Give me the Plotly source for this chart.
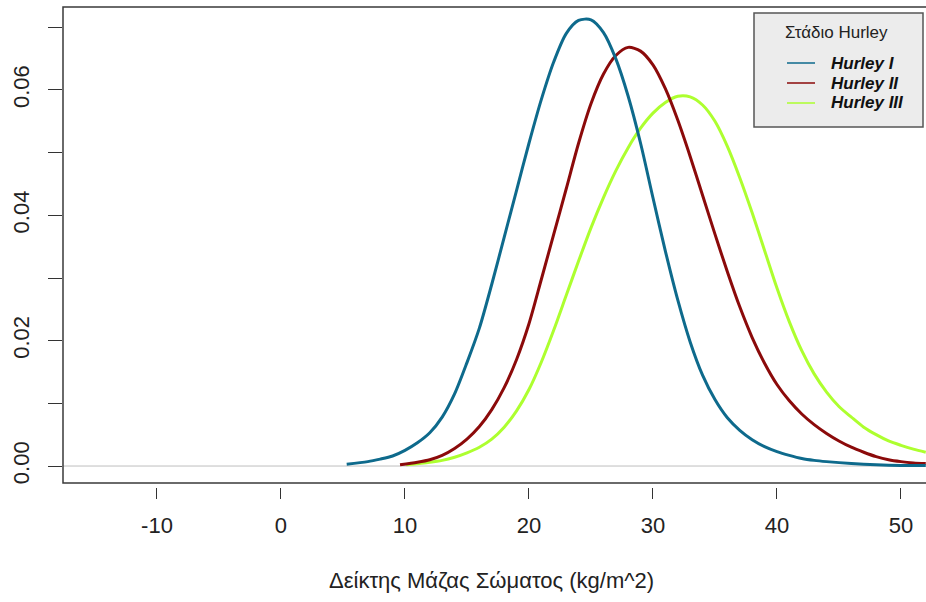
import plotly.graph_objects as go

# ---- data ----
series_names = ["Hurley I", "Hurley II", "Hurley III"]
series_colors = ["#0E6A8C", "#8B0A0A", "#ADFF2F"]

x_hurley1 = [5.3, 7, 8, 9, 10, 11, 12, 13, 14, 15, 16, 17, 18, 19, 20, 21, 22, 23, 24, 25,
             26, 27, 28, 29, 30, 31, 32, 33, 34, 35, 36, 37, 38, 39, 40, 41, 42, 43, 44, 46,
             48, 50, 52]
y_hurley1 = [0.0003, 0.0007, 0.0011, 0.0016, 0.0025, 0.0037, 0.0053, 0.0078, 0.0115, 0.0165,
             0.0220, 0.0290, 0.0365, 0.0440, 0.0515, 0.0585, 0.0645, 0.0690, 0.0711, 0.0712,
             0.0692, 0.0650, 0.0590, 0.0515, 0.0428, 0.0343, 0.0265, 0.0198, 0.0145, 0.0106,
             0.0077, 0.0057, 0.0042, 0.0031, 0.0023, 0.0017, 0.0012, 0.0009, 0.0007, 0.0004,
             0.0002, 0.0001, 0.0001]

x_hurley2 = [9.6, 11, 12, 13, 14, 15, 16, 17, 18, 19, 20, 21, 22, 23, 24, 25, 26, 27, 28, 29,
             30, 31, 32, 33, 34, 35, 36, 37, 38, 39, 40, 41, 42, 43, 44, 45, 46, 47, 48, 49,
             50, 51, 52]
y_hurley2 = [0.0002, 0.0006, 0.0010, 0.0017, 0.0028, 0.0043, 0.0063, 0.0090, 0.0125, 0.0170,
             0.0227, 0.0298, 0.0370, 0.0442, 0.0515, 0.0578, 0.0625, 0.0655, 0.0668, 0.0662,
             0.0640, 0.0602, 0.0552, 0.0494, 0.0432, 0.0370, 0.0310, 0.0254, 0.0205, 0.0164,
             0.0130, 0.0104, 0.0083, 0.0066, 0.0052, 0.0040, 0.0030, 0.0022, 0.0015, 0.0010,
             0.0007, 0.0005, 0.0004]

x_hurley3 = [10.1, 12, 13, 14, 15, 16, 17, 18, 19, 20, 21, 22, 23, 24, 25, 26, 27, 28, 29, 30,
             31, 32, 33, 34, 35, 36, 37, 38, 39, 40, 41, 42, 43, 44, 45, 46, 47, 48, 49, 50,
             51, 52]
y_hurley3 = [0.0002, 0.0006, 0.0009, 0.0014, 0.0021, 0.0030, 0.0043, 0.0062, 0.0088, 0.0122,
             0.0166, 0.0217, 0.0272, 0.0327, 0.0380, 0.0428, 0.0471, 0.0508, 0.0539, 0.0563,
             0.0580, 0.0590, 0.0589, 0.0576, 0.0550, 0.0510, 0.0460, 0.0404, 0.0344, 0.0284,
             0.0230, 0.0184, 0.0147, 0.0118, 0.0095, 0.0078, 0.0062, 0.0050, 0.0040, 0.0033,
             0.0027, 0.0022]

x_tick_vals = [-10, 0, 10, 20, 30, 40, 50]
x_tick_text = ["-10", "0", "10", "20", "30", "40", "50"]
y_tick_vals = [0.00, 0.01, 0.02, 0.03, 0.04, 0.05, 0.06, 0.07]
y_tick_text = ["0.00", "", "0.02", "", "0.04", "", "0.06", ""]

x_title = "Δείκτης Μάζας Σώματος (kg/m^2)"
legend_title = "Στάδιο Hurley"

# ---- figure ----
W, H = 926, 602
L, T = 63, 7
BOX_B = 483      # bottom of plot box (px)
AX_B = 487       # where x-axis ticks start (px)
FONT = "Liberation Sans, Arial, sans-serif"

fig = go.Figure()
series = [(x_hurley1, y_hurley1), (x_hurley2, y_hurley2), (x_hurley3, y_hurley3)]
for idx in [2, 1, 0]:
    xs, ys = series[idx]
    fig.add_trace(go.Scatter(x=xs, y=ys, mode="lines", name=series_names[idx],
                             line=dict(color=series_colors[idx], width=3, shape="spline", smoothing=0.8),
                             showlegend=False, hoverinfo="x+y"))

plot_h = AX_B - T
dom_low = (AX_B - BOX_B) / plot_h

fig.update_layout(
    width=W, height=H, autosize=False,
    margin=dict(l=L, r=0, t=T, b=H - AX_B, pad=0),
    paper_bgcolor="white", plot_bgcolor="white",
    font=dict(family=FONT, color="#222222", size=22),
    showlegend=False,
    xaxis=dict(range=[-17.58, 52.02], tickvals=x_tick_vals, ticktext=x_tick_text,
               ticks="outside", ticklen=11,
               tickwidth=1, tickcolor="#333333", showgrid=False, zeroline=False, showline=False,
               anchor="free", position=0, tickfont=dict(size=22, color="#222222"),
               ticklabelstandoff=8),
    yaxis=dict(range=[-0.00271, 0.07324], domain=[dom_low, 1], tickvals=y_tick_vals,
               ticktext=y_tick_text, ticks="outside", ticklen=14, tickwidth=1,
               tickcolor="#333333", showgrid=False, zeroline=False, showline=False,
               tickangle=-90, tickfont=dict(size=22, color="#222222"), ticklabelstandoff=10),
)

# helpers: pixel -> axis-domain fractions
def dx(p):
    return (p - L) / (W - L)

def dy(p):
    return (BOX_B - p) / (BOX_B - T)

# horizontal reference line at 0
fig.add_shape(type="line", xref="x domain", yref="y", x0=0, x1=1, y0=0, y1=0,
              line=dict(color="#BEBEBE", width=1), layer="below")

# plot box (right edge lies outside the picture)
fig.add_shape(type="path", xref="x domain", yref="y domain",
              path="M 1.01,1 L 0,1 L 0,0 L 1.01,0",
              line=dict(color="#3a3a3a", width=1.5))

# legend box
fig.add_shape(type="rect", xref="x domain", yref="y domain",
              x0=dx(754), x1=dx(923), y0=dy(127), y1=dy(13),
              fillcolor="#ECECEC", line=dict(color="#555555", width=1.5))
fig.add_annotation(xref="x domain", yref="y domain", x=dx(836), y=dy(32), text=legend_title,
                   showarrow=False, font=dict(family=FONT, size=17, color="#222222"),
                   xanchor="center", yanchor="middle")
for i, (name, col) in enumerate(zip(series_names, series_colors)):
    yy = 63 + 20 * i
    fig.add_shape(type="line", xref="x domain", yref="y domain",
                  x0=dx(787), x1=dx(815), y0=dy(yy), y1=dy(yy),
                  line=dict(color=col, width=1.5))
    fig.add_annotation(xref="x domain", yref="y domain", x=dx(829), y=dy(yy),
                       text=f"<b><i>{name}</i></b>", showarrow=False,
                       font=dict(family=FONT, size=17, color="#111111"),
                       xanchor="left", yanchor="middle")

# x-axis title
fig.add_annotation(xref="x domain", yref="paper", x=dx(491), y=0, yshift=-(580 - AX_B),
                   text=x_title, showarrow=False, font=dict(family=FONT, size=22, color="#222222"),
                   xanchor="center", yanchor="middle")

fig.write_html("out.html")
